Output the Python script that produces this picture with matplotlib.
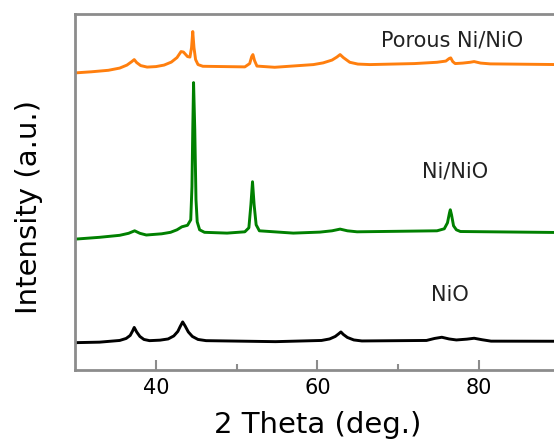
import matplotlib
matplotlib.use("Agg")
import matplotlib.pyplot as plt

# XRD traces (2 theta in deg., intensity in arbitrary units)
nio_tt = [30, 33.0, 35.5, 36.3, 36.8, 37.1, 37.3, 37.6, 38.0, 38.5,
          39.2, 40.5, 41.5, 42.2, 42.7, 43.0, 43.3, 43.6, 44.0, 44.5,
          45.2, 46.2, 54.8, 60.5, 61.5, 62.2, 62.6, 62.9, 63.2, 63.7,
          64.5, 65.5, 73.5, 74.5, 75.4, 76.3, 77.2, 78.5, 79.4, 80.4,
          81.5, 90]
nio_int = [27.3, 27.8, 29.5, 31.5, 34.5, 39.0, 42.5, 38.0, 33.5, 30.5,
           29.3, 29.8, 31.0, 34.0, 38.5, 43.5, 48.0, 44.0, 38.0, 33.5,
           30.5, 29.3, 28.3, 29.5, 31.0, 33.5, 36.0, 38.0, 35.5, 32.5,
           30.0, 29.0, 29.5, 31.5, 32.7, 31.0, 30.0, 30.8, 31.7, 30.2,
           28.8, 28.7]

ninio_tt = [30, 33.0, 35.5, 36.6, 37.35, 38.0, 38.8, 40.7, 41.8, 42.6,
            43.2, 43.9, 44.3, 44.45, 44.55, 44.65, 44.8, 44.95, 45.1, 45.4,
            46.0, 48.8, 51.0, 51.5, 51.75, 51.95, 52.15, 52.4, 52.8, 57.0,
            60.3, 61.8, 62.8, 63.7, 64.9, 74.8, 75.7, 76.1, 76.35, 76.45,
            76.6, 76.85, 77.2, 77.7, 90]
ninio_int = [130.7, 132.5, 134.5, 136.5, 139.0, 136.5, 134.8, 136.0, 137.5, 140.0,
             143.0, 144.5, 150.0, 183.0, 240.0, 287.0, 240.0, 170.0, 148.0, 140.0,
             137.5, 136.7, 138.0, 142.0, 165.0, 188.0, 165.0, 145.0, 139.0, 136.7,
             137.7, 139.0, 140.7, 139.0, 138.0, 139.0, 141.0, 147.0, 157.0, 160.0,
             155.0, 144.0, 140.0, 138.3, 137.3]

porous_tt = [30, 32.0, 34.1, 35.5, 36.4, 37.0, 37.3, 37.6, 38.1, 38.9,
             40.0, 41.0, 41.9, 42.6, 43.1, 43.4, 43.9, 44.2, 44.4, 44.55,
             44.7, 44.9, 45.2, 45.8, 51.0, 51.6, 51.85, 52.0, 52.2, 52.5,
             54.7, 59.5, 60.7, 61.8, 62.4, 62.8, 63.2, 64.0, 65.0, 66.5,
             72.0, 74.8, 75.9, 76.3, 76.5, 76.75, 77.05, 78.0, 78.9, 79.4,
             80.2, 81.4, 90]
porous_int = [296.7, 297.8, 299.3, 301.5, 304.5, 308.0, 310.0, 307.0, 304.0, 302.5,
              303.0, 304.5, 307.5, 312.0, 318.0, 317.5, 313.0, 312.5, 322.0, 338.0,
              322.0, 310.0, 305.0, 303.3, 302.7, 306.0, 313.0, 315.0, 309.0, 303.5,
              302.3, 305.0, 306.7, 309.5, 312.5, 315.0, 312.0, 307.3, 305.5, 305.0,
              306.0, 307.3, 308.5, 311.0, 311.7, 308.0, 306.0, 306.5, 307.3, 308.0,
              306.5, 305.7, 305.0]

series_labels = ["NiO", "Ni/NiO", "Porous Ni/NiO"]
series_colors = ["black", "#008000", "#ff7f0e"]
label_tt = [76.4, 77.05, 76.7]
label_int = [75, 198, 329]

fig = plt.figure(figsize=(5.54, 4.43), dpi=100)
ax = fig.add_axes([0.1359, 0.1648, 0.8744, 0.8047])

traces = [(nio_tt, nio_int), (ninio_tt, ninio_int), (porous_tt, porous_int)]
for (tt, inten), col in zip(traces, series_colors):
    ax.plot(tt, inten, color=col, lw=2.1, solid_joinstyle="round")

# curve labels
for name, tx, ty in zip(series_labels, label_tt, label_int):
    ax.text(tx, ty, name, fontsize=15, ha="center", va="center", color="#222222")

ax.set_xlim(30, 90)
ax.set_ylim(0, 356)
ax.set_xticks([40, 60, 80])
ax.set_xticks([50, 70], minor=True)
ax.set_yticks([])
ax.tick_params(axis="x", which="major", direction="in", length=7, width=1.5,
               color="#8c8c8c", labelsize=15, pad=6)
ax.tick_params(axis="x", which="minor", direction="in", length=4, width=1.5,
               color="#8c8c8c")

for side in ["left", "bottom", "top"]:
    ax.spines[side].set_color("#8c8c8c")
    ax.spines[side].set_linewidth(2)
ax.spines["right"].set_visible(False)

ax.set_xlabel("2 Theta (deg.)", fontsize=21, labelpad=9)
ax.set_ylabel("Intensity (a.u.)", fontsize=21)
ax.yaxis.set_label_coords(-0.0667, 0.457)

fig.savefig("out.png", dpi=100)
